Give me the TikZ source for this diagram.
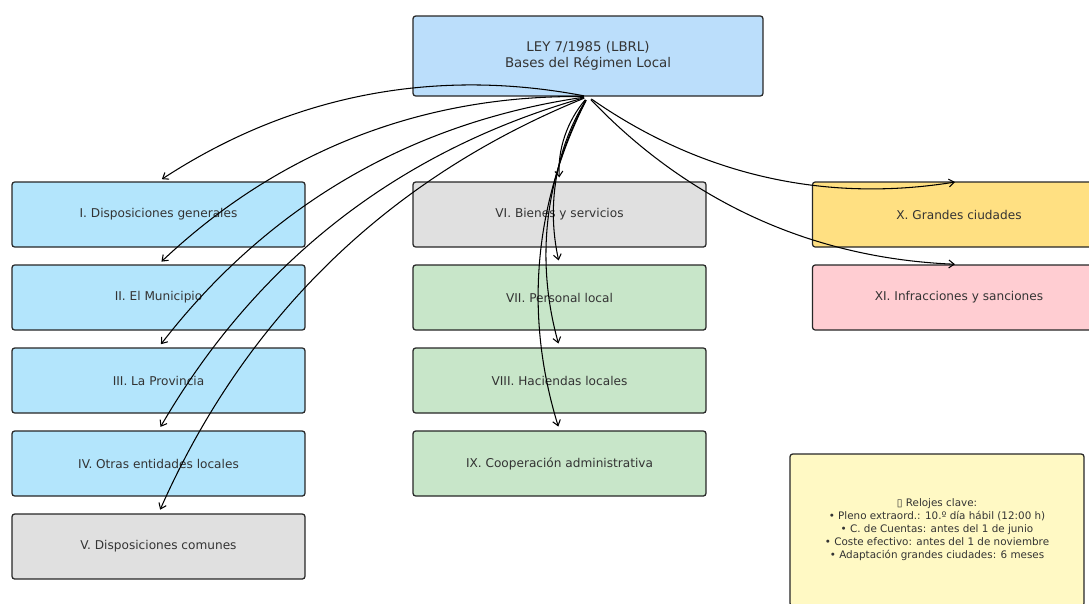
\documentclass[tikz,border=0pt]{standalone}
\usepackage{fontspec}
\setmainfont{DejaVu Sans}
\usetikzlibrary{arrows.meta}
\definecolor{topblue}{HTML}{BBDEFB}
\definecolor{lblue}{HTML}{B3E5FC}
\definecolor{lgray}{HTML}{E0E0E0}
\definecolor{lgreen}{HTML}{C8E6C9}
\definecolor{lyellow}{HTML}{FFE082}
\definecolor{lpink}{HTML}{FFCDD2}
\definecolor{notes}{HTML}{FFF9C4}

\begin{document}
\begin{tikzpicture}
  [x=0.02cm,y=-0.02cm,
   every node/.style={draw=black!85,line width=0.7pt,rounded corners=1.5pt,text=black!80,align=center,inner sep=0pt},
   sec/.style={minimum width=5.86cm,minimum height=1.3cm,font=\fontsize{6.9}{8.5}\selectfont}]
  \clip (0,0) rectangle (1089,603);
  \node[fill=topblue,minimum width=7cm,minimum height=1.6cm,font=\fontsize{7.6}{9}\selectfont] (0) at (588,56) {LEY 7/1985 (LBRL)\\Bases del Régimen Local};

  \node[sec,fill=lblue] (1) at (158.5,214.5) {I. Disposiciones generales};
  \node[sec,fill=lblue] (2) at (158.5,297.5) {II. El Municipio};
  \node[sec,fill=lblue] (3) at (158.5,380.5) {III. La Provincia};
  \node[sec,fill=lblue] (4) at (158.5,463.5) {IV. Otras entidades locales};
  \node[sec,fill=lgray] (5) at (158.5,546.5) {V. Disposiciones comunes};
  \node[sec,fill=lgray] (6) at (559.5,214.5) {VI. Bienes y servicios};
  \node[sec,fill=lgreen] (7) at (559.5,297.5) {VII. Personal local};
  \node[sec,fill=lgreen] (8) at (559.5,380.5) {VIII. Haciendas locales};
  \node[sec,fill=lgreen] (9) at (559.5,463.5) {IX. Cooperación administrativa};
  \node[sec,fill=lyellow] (10) at (959,214.5) {X. Grandes ciudades};
  \node[sec,fill=lpink] (11) at (959,297.5) {XI. Infracciones y sanciones};

  \node[fill=notes,minimum width=5.88cm,minimum height=3.04cm,font=\fontsize{5.9}{7.4}\selectfont] (12) at (937,530)
    {▯ Relojes clave:\\• Pleno extraord.: 10.º día hábil (12:00 h)\\• C. de Cuentas: antes del 1 de junio\\• Coste efectivo: antes del 1 de noviembre\\• Adaptación grandes ciudades: 6 meses};

  \foreach \n in {1,...,11}
    \draw[line width=0.6pt,-{Straight Barb[length=3pt,width=4.5pt]},shorten <=2.3pt,shorten >=2.3pt]
      (0.south) to[bend right=22,looseness=0.92] (\n.north);

\end{tikzpicture}
\end{document}
